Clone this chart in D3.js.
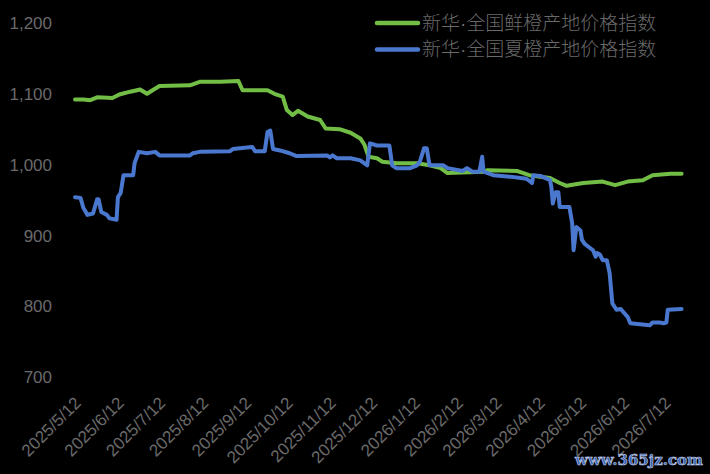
<!DOCTYPE html>
<html>
<head>
    <meta charset="utf-8">
    <script src="https://d3js.org/d3.v7.min.js"></script>
    <style>
        body { margin: 0; background: #000; }
        text { fill: #6a6a6a; font-family: "Liberation Sans", "Noto Sans CJK SC", sans-serif; }
    </style>
</head>
<body>
    <div id="chart"></div>
    <script>
        var seriesNames = ["新华·全国鲜橙产地价格指数", "新华·全国夏橙产地价格指数"];

        // 鲜橙 (green)
        var freshDates = ["2025-05-12", "2025-05-18", "2025-05-23", "2025-05-28", "2025-06-08", "2025-06-13",
            "2025-06-21", "2025-06-28", "2025-07-03", "2025-07-07", "2025-07-12", "2025-08-03", "2025-08-10",
            "2025-08-25", "2025-09-07", "2025-09-10", "2025-09-28", "2025-10-03", "2025-10-09", "2025-10-12",
            "2025-10-16", "2025-10-20", "2025-10-27", "2025-11-05", "2025-11-09", "2025-11-19", "2025-11-27",
            "2025-12-04", "2025-12-07", "2025-12-10", "2025-12-16", "2025-12-20", "2025-12-30", "2026-01-14",
            "2026-01-23", "2026-01-31", "2026-02-05", "2026-03-03", "2026-03-06", "2026-03-27", "2026-04-05",
            "2026-04-20", "2026-04-27", "2026-05-02", "2026-05-14", "2026-05-28", "2026-06-06", "2026-06-15",
            "2026-06-26", "2026-07-03", "2026-07-16", "2026-07-24"];
        var freshValues = [1092, 1092, 1091, 1095, 1094, 1099,
            1103, 1106, 1100, 1105, 1111, 1112, 1117,
            1117, 1118, 1105, 1105, 1100, 1096, 1077,
            1070, 1076, 1068, 1063, 1051, 1050, 1045,
            1037, 1028, 1011, 1009, 1004, 1002, 1002,
            999, 995, 988, 990, 992, 991, 985,
            981, 974, 970, 974, 976, 971, 976,
            978, 985, 987, 987];

        // 夏橙 (blue)
        var summerDates = ["2025-05-12", "2025-05-16", "2025-05-18", "2025-05-21", "2025-05-25", "2025-05-28",
            "2025-05-29", "2025-05-31", "2025-06-04", "2025-06-06", "2025-06-11", "2025-06-12", "2025-06-14",
            "2025-06-16", "2025-06-23", "2025-06-24", "2025-06-27", "2025-07-03", "2025-07-09", "2025-07-12",
            "2025-08-03", "2025-08-05", "2025-08-10", "2025-09-01", "2025-09-03", "2025-09-13", "2025-09-17",
            "2025-09-19", "2025-09-26", "2025-09-28", "2025-09-30", "2025-10-02", "2025-10-07", "2025-10-14",
            "2025-10-19", "2025-11-10", "2025-11-12", "2025-11-14", "2025-11-17", "2025-11-27", "2025-12-04",
            "2025-12-09", "2025-12-11", "2025-12-16", "2025-12-25", "2025-12-27", "2025-12-30", "2026-01-09",
            "2026-01-14", "2026-01-16", "2026-01-19", "2026-01-21", "2026-01-23", "2026-02-02", "2026-02-05",
            "2026-02-16", "2026-02-19", "2026-02-23", "2026-02-28", "2026-03-02", "2026-03-03", "2026-03-10",
            "2026-03-22", "2026-04-03", "2026-04-07", "2026-04-08", "2026-04-13", "2026-04-20", "2026-04-21",
            "2026-04-22", "2026-04-24", "2026-04-26", "2026-04-27", "2026-05-04", "2026-05-06", "2026-05-07",
            "2026-05-09", "2026-05-12", "2026-05-13", "2026-05-15", "2026-05-21", "2026-05-23", "2026-05-24",
            "2026-05-26", "2026-05-28", "2026-05-31", "2026-06-02", "2026-06-04", "2026-06-07", "2026-06-10",
            "2026-06-15", "2026-06-17", "2026-07-01", "2026-07-03", "2026-07-08", "2026-07-11", "2026-07-13",
            "2026-07-14", "2026-07-24"];
        var summerValues = [954, 953, 939, 929, 931, 951,
            951, 933, 929, 924, 922, 954, 960,
            985, 985, 1002, 1018, 1016, 1018, 1013,
            1013, 1016, 1018, 1019, 1022, 1024, 1025,
            1019, 1019, 1046, 1048, 1022, 1020, 1016,
            1012, 1013, 1010, 1013, 1009, 1009, 1006,
            999, 1030, 1027, 1027, 999, 995, 995,
            999, 1004, 1023, 1023, 999, 999, 995,
            991, 995, 990, 990, 1011, 990, 985,
            983, 980, 974, 985, 984, 978, 968,
            945, 961, 961, 940, 940, 917, 879,
            912, 907, 894, 888, 879, 870, 875,
            873, 865, 865, 847, 804, 795, 796,
            785, 776, 773, 777, 777, 776, 777,
            795, 796];

        var xTickLabels = ["2025/5/12", "2025/6/12", "2025/7/12", "2025/8/12", "2025/9/12", "2025/10/12",
            "2025/11/12", "2025/12/12", "2026/1/12", "2026/2/12", "2026/3/12", "2026/4/12", "2026/5/12",
            "2026/6/12", "2026/7/12"];
        var yTicks = [700, 800, 900, 1000, 1100, 1200];

        var colors = ["#72bd45", "#4a78cf"];

        var parse = d3.timeParse("%Y-%m-%d");
        var parseTick = d3.timeParse("%Y/%m/%d");

        var width = 710, height = 474;
        var svg = d3.select("#chart")
            .append("svg")
            .attr("width", width)
            .attr("height", height);

        var x = d3.scaleTime()
            .domain([parse("2025-05-12"), parse("2026-07-24")])
            .range([75, 681.6]);

        var y = d3.scaleLinear()
            .domain([700, 1200])
            .range([377, 23]);

        // y labels
        svg.selectAll(".ylab")
            .data(yTicks)
            .enter()
            .append("text")
            .attr("class", "ylab")
            .attr("x", 52)
            .attr("y", function (d) { return y(d); })
            .attr("dy", "0.36em")
            .style("text-anchor", "end")
            .style("font-size", "17px")
            .text(d3.format(","));

        // x labels, rotated
        svg.selectAll(".xlab")
            .data(xTickLabels)
            .enter()
            .append("text")
            .attr("class", "xlab")
            .attr("transform", function (d) {
                return "translate(" + (x(parseTick(d)) + 7) + ",404) rotate(-45)";
            })
            .style("text-anchor", "end")
            .style("font-size", "17px")
            .text(function (d) { return d; });

        var line = d3.line()
            .x(function (d) { return x(d.date); })
            .y(function (d) { return y(d.value); });

        var series = [
            freshDates.map(function (d, i) { return { date: parse(d), value: freshValues[i] }; }),
            summerDates.map(function (d, i) { return { date: parse(d), value: summerValues[i] }; })
        ];

        // green first, blue on top
        series.forEach(function (s, i) {
            svg.append("path")
                .datum(s)
                .attr("fill", "none")
                .attr("stroke", colors[i])
                .attr("stroke-width", 4)
                .attr("stroke-linejoin", "round")
                .attr("stroke-linecap", "round")
                .attr("d", line);
        });

        // legend
        var legend = svg.selectAll(".legend")
            .data(seriesNames)
            .enter()
            .append("g")
            .attr("class", "legend")
            .attr("transform", function (d, i) { return "translate(377," + (23 + i * 26.5) + ")"; });

        legend.append("line")
            .attr("x1", 0)
            .attr("x2", 41)
            .attr("stroke", function (d, i) { return colors[i]; })
            .attr("stroke-width", 4.5)
            .attr("stroke-linecap", "round");

        // split name at the middle dot so the dot keeps a narrow latin width
        var ltext = legend.append("text")
            .attr("x", 45)
            .attr("dy", "0.36em")
            .style("font-family", "'Noto Sans CJK SC', sans-serif")
            .style("font-weight", 300)
            .style("font-size", "19px");

        ltext.append("tspan")
            .text(function (d) { return d.split("·")[0]; });
        ltext.append("tspan")
            .style("font-family", "'Liberation Sans', sans-serif")
            .text("·");
        ltext.append("tspan")
            .text(function (d) { return d.split("·")[1]; });

        // watermark
        svg.append("text")
            .attr("x", 703)
            .attr("y", 465)
            .style("text-anchor", "end")
            .style("font-family", "'DejaVu Serif', serif")
            .style("font-weight", "bold")
            .style("font-size", "15px")
            .style("fill", "#3b63b0")
            .style("stroke", "#c8d4ec")
            .style("stroke-width", 0.6)
            .text("www.365jz.com");
    </script>
</body>
</html>
